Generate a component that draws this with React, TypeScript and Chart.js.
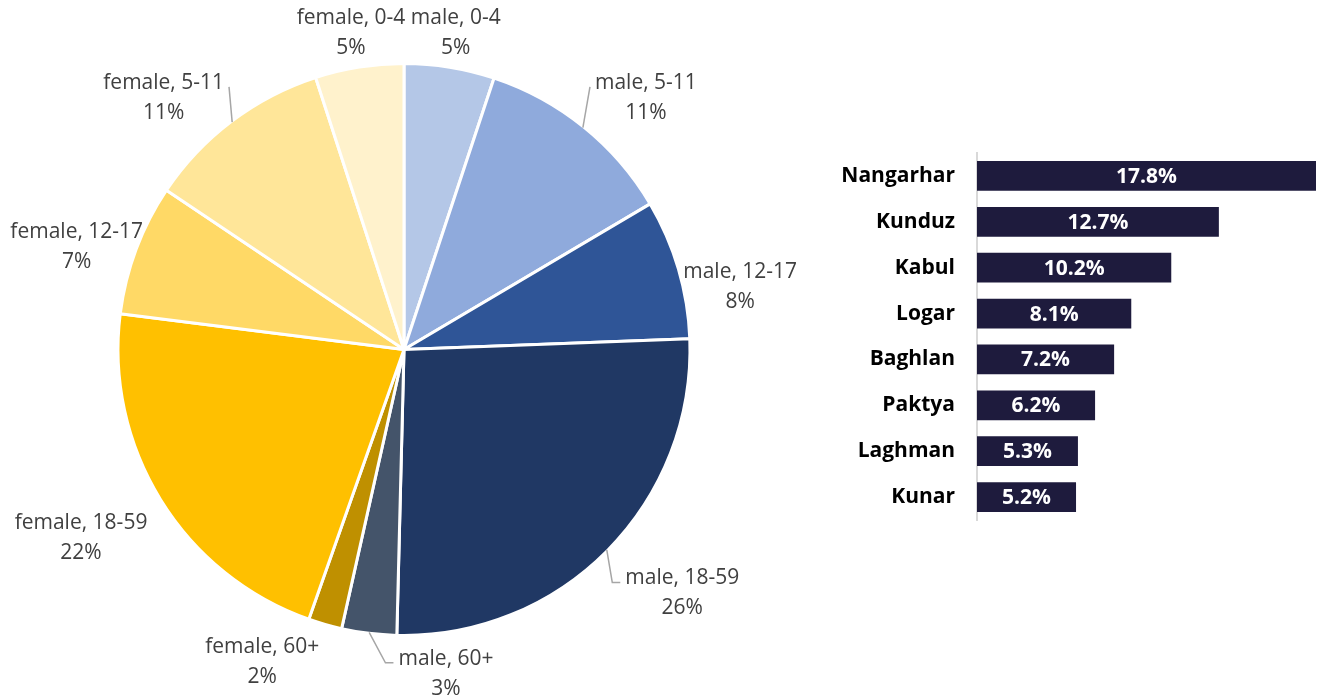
import React, { useEffect, useRef } from "react";
import { Chart, registerables } from "chart.js";

Chart.register(...registerables);

// ---- Pie data (clockwise from top) ----
const pieLabels = [
  "male, 0-4",
  "male, 5-11",
  "male, 12-17",
  "male, 18-59",
  "male, 60+",
  "female, 60+",
  "female, 18-59",
  "female, 12-17",
  "female, 5-11",
  "female, 0-4",
];
const pieValues = [5.1, 11.4, 7.9, 26.0, 3.1, 1.9, 21.6, 7.4, 10.6, 5.0];
const pieColors = [
  "#B4C7E7",
  "#8FAADC",
  "#2F5597",
  "#203864",
  "#44546A",
  "#BF9000",
  "#FFC000",
  "#FFD966",
  "#FFE699",
  "#FFF2CC",
];
// label placement relative to each slice's mid angle (degrees) and outer radius (px)
const pieLabelAngleShift = [0.1, 5.0, 5.8, -3.4, -14.4, 8.4, 1.4, -3.1, -6.6, -0.5];
const pieLabelOffset = [35, 63, 56, 84, 41, 57, 88, 57, 62, 35];
const pieLeader = [false, true, false, true, true, false, false, false, true, false];

// ---- Bar data ----
const provinces = ["Nangarhar", "Kunduz", "Kabul", "Logar", "Baghlan", "Paktya", "Laghman", "Kunar"];
const provinceShares = [17.8, 12.7, 10.2, 8.1, 7.2, 6.2, 5.3, 5.2];

const PIE_FONT = "21px 'Open Sans'";
const BAR_FONT_FAMILY = "'Open Sans'";

const pieLabelPlugin = {
  id: "pieOutsideLabels",
  afterDatasetsDraw(chart: any) {
    const ctx = chart.ctx as CanvasRenderingContext2D;
    const meta = chart.getDatasetMeta(0);
    ctx.save();
    ctx.font = PIE_FONT;
    ctx.textAlign = "center";
    ctx.textBaseline = "middle";
    meta.data.forEach((arc: any, i: number) => {
      const p = arc.getProps(["x", "y", "startAngle", "endAngle", "outerRadius"], true);
      const mid = (p.startAngle + p.endAngle) / 2;
      const a = mid + (pieLabelAngleShift[i] * Math.PI) / 180;
      const d = p.outerRadius + pieLabelOffset[i];
      const cx = p.x + d * Math.cos(a);
      const cy = p.y + d * Math.sin(a);
      const name = pieLabels[i];
      const pct = Math.round(pieValues[i]) + "%";
      if (pieLeader[i]) {
        const sx = p.x + (p.outerRadius - 1) * Math.cos(mid);
        const sy = p.y + (p.outerRadius - 1) * Math.sin(mid);
        const w = ctx.measureText(name).width;
        const right = cx > p.x;
        const ex = right ? cx - w / 2 - 5 : cx + w / 2 + 5;
        const ey = cy - 11;
        ctx.beginPath();
        ctx.strokeStyle = "#A6A6A6";
        ctx.lineWidth = 1.5;
        ctx.moveTo(sx, sy);
        if (ey > sy) {
          ctx.lineTo(right ? ex - 8 : ex + 8, ey);
        }
        ctx.lineTo(ex, ey);
        ctx.stroke();
      }
      ctx.fillStyle = "#404040";
      ctx.fillText(name, cx, cy - 15);
      ctx.fillText(pct, cx, cy + 15);
    });
    ctx.restore();
  },
};

const barValuePlugin = {
  id: "barValues",
  afterDatasetsDraw(chart: any) {
    const ctx = chart.ctx as CanvasRenderingContext2D;
    const meta = chart.getDatasetMeta(0);
    ctx.save();
    ctx.font = `bold 21px ${BAR_FONT_FAMILY}`;
    ctx.fillStyle = "#FFFFFF";
    ctx.textAlign = "center";
    ctx.textBaseline = "middle";
    meta.data.forEach((bar: any, i: number) => {
      const p = bar.getProps(["x", "y", "base"], true);
      ctx.fillText(provinceShares[i].toFixed(1) + "%", (p.x + p.base) / 2, p.y + 1);
    });
    ctx.restore();
  },
};

export default function App() {
  const pieRef = useRef<HTMLCanvasElement>(null);
  const barRef = useRef<HTMLCanvasElement>(null);

  useEffect(() => {
    const pie = new Chart(pieRef.current as HTMLCanvasElement, {
      type: "pie",
      data: {
        labels: pieLabels,
        datasets: [
          {
            data: pieValues,
            backgroundColor: pieColors,
            borderColor: "#FFFFFF",
            borderWidth: 3,
          },
        ],
      },
      options: {
        responsive: false,
        animation: false,
        layout: { padding: { top: 62, bottom: 62, left: 0, right: 0 } },
        plugins: { legend: { display: false }, tooltip: { enabled: false } },
      },
      plugins: [pieLabelPlugin],
    } as any);

    const bar = new Chart(barRef.current as HTMLCanvasElement, {
      type: "bar",
      data: {
        labels: provinces,
        datasets: [
          {
            data: provinceShares,
            backgroundColor: "#1E1B3D",
            barPercentage: 0.65,
            categoryPercentage: 1,
          },
        ],
      },
      options: {
        indexAxis: "y",
        responsive: false,
        animation: false,
        layout: { padding: { top: 153, bottom: 179, left: 0, right: 8 } },
        scales: {
          x: { display: false, min: 0, max: 17.8 },
          y: {
            afterFit(s: any) {
              s.width = 157;
            },
            grid: { display: false, drawTicks: false },
            border: { display: true, color: "#D9D9D9", width: 2 },
            ticks: {
              padding: 22,
              color: "#000000",
              font: { family: BAR_FONT_FAMILY, weight: "bold", size: 21 },
            },
          },
        },
        plugins: { legend: { display: false }, tooltip: { enabled: false } },
      },
      plugins: [barValuePlugin],
    } as any);

    return () => {
      pie.destroy();
      bar.destroy();
    };
  }, []);

  return (
    <div
      style={{
        position: "absolute",
        left: 0,
        top: 0,
        width: 1324,
        height: 699,
        background: "#FFFFFF",
        overflow: "hidden",
      }}
    >
      <canvas
        ref={pieRef}
        width={808}
        height={699}
        style={{ position: "absolute", left: 0, top: 0, display: "block" }}
      />
      <canvas
        ref={barRef}
        width={504}
        height={699}
        style={{ position: "absolute", left: 820, top: 0, display: "block" }}
      />
    </div>
  );
}
